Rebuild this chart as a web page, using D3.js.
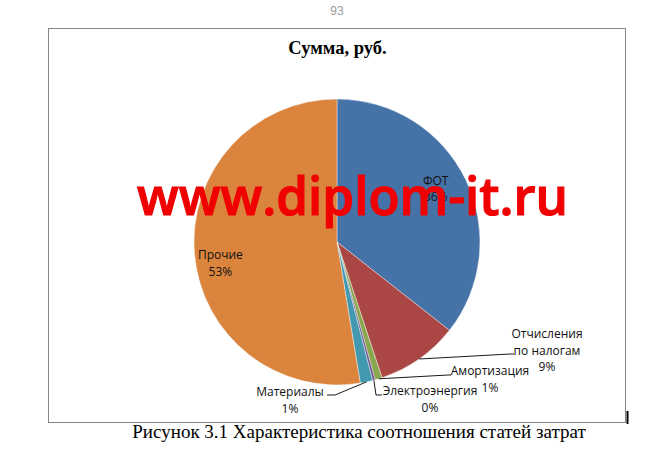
<!DOCTYPE html>
<html>
<head>
<meta charset="utf-8">
<script src="https://cdn.jsdelivr.net/npm/d3@7"></script>
<style>
  html, body { margin: 0; padding: 0; background: #fff; }
</style>
</head>
<body>
<div id="canvas"></div>
<script>
(function (d3) {
  // chart values (percent of total)
  var categories = ['ФОТ', 'Отчисления по налогам', 'Амортизация', 'Электроэнергия', 'Материалы', 'Прочие'];
  var values = [35.6, 9.3, 0.8, 0.3, 1.4, 52.6];
  var colors = ['#4572A7', '#AA4643', '#89A54E', '#71588F', '#4198AF', '#DB843D'];

  var width = 671, height = 460;
  var cx = 337, cy = 242, radius = 143;
  var labelFont = '"Open Sans", "DejaVu Sans", sans-serif';
  var serif = '"Liberation Serif", "Times New Roman", serif';

  // label layout: inside labels sit on a ring, outside ones get a leader line
  var labelLayout = [
    { inside: true, r: 112, dx: -2, dy: -4, lines: ['ФОТ'] },
    { inside: false, lines: ['Отчисления', 'по налогам'], x: 547, y: 338, path: [[510, 354], [514, 354]] },
    { inside: false, lines: ['Амортизация'], x: 490, y: 375, path: [[448, 375], [451, 375]] },
    { inside: false, lines: ['Электроэнергия'], x: 430, y: 395, path: [[376, 395], [382, 395]] },
    { inside: false, lines: ['Материалы'], x: 290, y: 396, path: [[335, 395], [327, 395]] },
    { inside: true, r: 117, dx: 0, dy: 12, lines: ['Прочие'] }
  ];

  var svg = d3.select('#canvas')
    .append('svg')
    .attr('width', width)
    .attr('height', height)
    .style('display', 'block');

  // page number
  svg.append('text')
    .attr('x', 337)
    .attr('y', 15)
    .attr('text-anchor', 'middle')
    .style('font-family', '"Liberation Sans", sans-serif')
    .style('font-size', '12px')
    .attr('fill', '#999')
    .text('93');

  // chart frame
  svg.append('rect')
    .attr('x', 48.5)
    .attr('y', 28.5)
    .attr('width', 577)
    .attr('height', 394)
    .attr('fill', '#fff')
    .attr('stroke', '#868686')
    .attr('stroke-width', 1);

  svg.append('line')
    .attr('x1', 627.5).attr('x2', 627.5)
    .attr('y1', 411).attr('y2', 424)
    .attr('stroke', '#000')
    .attr('stroke-width', 2);

  svg.append('text')
    .attr('x', 337.5)
    .attr('y', 54)
    .attr('text-anchor', 'middle')
    .style('font-family', serif)
    .style('font-size', '18.5px')
    .style('font-weight', 'bold')
    .text('Сумма, руб.');

  var pie = d3.pie().sort(null).value(function (d) { return d; });
  var arcs = pie(values);
  var arc = d3.arc().innerRadius(0).outerRadius(radius);

  var g = svg.append('g')
    .attr('transform', 'translate(' + cx + ',' + cy + ')');

  g.selectAll('path.slice')
    .data(arcs)
    .enter()
    .append('path')
    .attr('class', 'slice')
    .attr('d', arc)
    .attr('fill', function (d, i) { return colors[i]; })
    .attr('stroke', '#fff')
    .attr('stroke-width', 0.4);

  function pct(v) {
    return Math.round(v / d3.sum(values) * 100) + '%';
  }

  function polar(a, r) {
    return [r * Math.sin(a), -r * Math.cos(a)];
  }

  var lineH = 16.5;

  arcs.forEach(function (d, i) {
    var lay = labelLayout[i];
    var mid = (d.startAngle + d.endAngle) / 2;
    var rows = lay.lines.concat([pct(values[i])]);
    var x, y;

    if (lay.inside) {
      var p = polar(mid, lay.r);
      x = cx + p[0] + lay.dx;
      y = cy + p[1] + lay.dy - (rows.length - 1) * lineH / 2 + 4;
    } else {
      var s = polar(mid, radius);
      var pts = [[cx + s[0], cy + s[1]]].concat(lay.path);
      svg.append('path')
        .attr('d', d3.line()(pts))
        .attr('fill', 'none')
        .attr('stroke', '#000')
        .attr('stroke-width', 0.9);
      x = lay.x;
      y = lay.y;
    }

    var t = svg.append('text')
      .attr('text-anchor', 'middle')
      .style('font-family', labelFont)
      .style('font-size', '12px')
      .attr('fill', '#111');
    rows.forEach(function (row, k) {
      t.append('tspan')
        .attr('x', x)
        .attr('y', y + k * lineH)
        .text(row);
    });
  });

  // watermark over the chart
  svg.append('text')
    .attr('x', 352.5)
    .attr('y', 215)
    .attr('text-anchor', 'middle')
    .attr('textLength', 431)
    .attr('lengthAdjust', 'spacingAndGlyphs')
    .style('font-family', '"Open Sans", sans-serif')
    .style('font-size', '53px')
    .style('font-weight', 600)
    .attr('fill', '#f00000')
    .attr('stroke', '#f00000')
    .attr('stroke-width', 1.2)
    .text('www.diplom-it.ru');

  svg.append('text')
    .attr('x', 359)
    .attr('y', 438)
    .attr('text-anchor', 'middle')
    .style('font-family', serif)
    .style('font-size', '19px')
    .attr('fill', '#000')
    .text('Рисунок 3.1 Характеристика соотношения статей затрат');
})(window.d3);
</script>
</body>
</html>
